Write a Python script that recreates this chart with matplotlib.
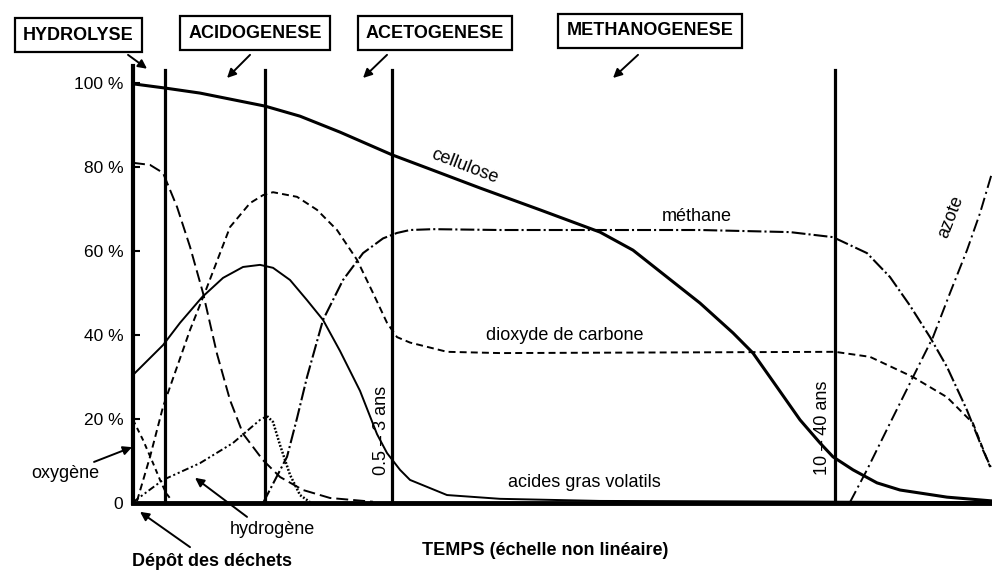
import matplotlib
matplotlib.use("Agg")
import matplotlib.pyplot as plt

plt.rcParams["font.family"] = ["Liberation Sans", "DejaVu Sans"]
plt.rcParams["lines.scale_dashes"] = False

# time axis is non linear: arbitrary units, 0 = waste deposit
phase_bounds = [32, 132, 259, 702]
phase_names = ["HYDROLYSE", "ACIDOGENESE", "ACETOGENESE", "METHANOGENESE"]

cellulose_x = [0, 32, 67, 132, 167, 207, 259, 297, 347, 407, 467, 500, 534, 567, 600, 620, 644, 667, 687, 700, 720, 744, 767, 814, 859]
cellulose_y = [99.8, 98.8, 97.6, 94.5, 92.1, 88.3, 82.9, 79.5, 75.0, 69.8, 64.5, 60.2, 53.8, 47.6, 40.5, 35.7, 27.6, 19.8, 14.3, 11.0, 7.9, 4.8, 3.1, 1.4, 0.5]

azote_x = [0, 17, 30, 44, 57, 70, 84, 97, 110, 130, 147, 170, 197, 240]
azote_y = [81, 80.5, 78.6, 70.5, 61, 50, 35.5, 24.5, 16.5, 10.2, 6.2, 3.1, 1.2, 0.3]

azote2_x = [717, 734, 757, 780, 800, 817, 834, 847, 859]
azote2_y = [0.2, 7.9, 19, 30, 39.5, 50, 60.2, 69, 78.6]

oxygene_x = [0, 10, 20, 27, 33, 39]
oxygene_y = [19.8, 15, 9.5, 5.5, 2.4, 0.5]

co2_x = [4, 17, 30, 44, 57, 74, 97, 117, 130, 140, 164, 184, 204, 224, 240, 254, 264, 277,
         314, 367, 702, 737, 780, 814, 840, 857]
co2_y = [0.5, 11, 22.9, 32.4, 41.2, 51.4, 65.7, 71.4, 73.3, 74, 72.9, 69.8, 65, 57.9, 50, 42.9, 39.5, 38.2,
         36, 35.7, 36, 34.8, 30, 25.2, 19, 8.6]

agv_x = [0, 30, 47, 69, 90, 110, 127, 140, 157, 174, 190, 207, 227, 244, 254, 267, 277, 314, 367, 467, 859]
agv_y = [30.5, 37.6, 42.9, 49, 53.6, 56.2, 56.7, 56, 53.1, 48.3, 43.6, 36.2, 26.7, 16.4, 11.9, 7.9, 5.5, 1.9, 1, 0.5, 0.2]

methane_x = [130, 142, 154, 164, 174, 190, 210, 230, 250, 264, 277, 300, 367, 567, 657, 700, 734, 757, 777, 797, 814, 834, 850, 859]
methane_y = [0, 5.5, 11, 20.2, 30, 43.6, 53.1, 59.5, 63, 64.3, 65, 65.2, 65, 65, 64.5, 63.3, 59.5, 53.8, 47, 39.5, 32.4, 22.1, 12.6, 7.9]

h2_rise_x = [0, 30, 67, 100, 127, 134]
h2_rise_y = [0.2, 5.5, 9.5, 14.3, 19.8, 20.7]
h2_fall_x = [134, 140, 147, 157, 167, 177]
h2_fall_y = [20.7, 19.3, 13.8, 6.7, 1.9, 0.2]

yticks = [0, 20, 40, 60, 80, 100]
ytick_labels = ["0", "20 %", "40 %", "60 %", "80 %", "100 %"]

fig = plt.figure(figsize=(9.92, 5.70), dpi=100)
ax = fig.add_axes([0.1341, 0.1175, 0.8659, 0.7811])
ax.set_xlim(0, 859)
ax.set_ylim(0, 106)

k = "black"
ax.plot(cellulose_x, cellulose_y, color=k, lw=2.2, solid_joinstyle="round")
ax.plot(azote_x, azote_y, color=k, lw=1.4, dashes=(8.6, 3.6))
ax.plot(azote2_x, azote2_y, color=k, lw=1.4, dashes=(9, 3, 1.5, 3))
ax.plot(oxygene_x, oxygene_y, color=k, lw=1.4, dashes=(3.6, 2.9))
ax.plot(co2_x, co2_y, color=k, lw=1.4, dashes=(5, 3))
ax.plot(agv_x, agv_y, color=k, lw=1.4, solid_joinstyle="round")
ax.plot(methane_x, methane_y, color=k, lw=1.5, dashes=(10, 2.2, 1.5, 2.2))
ax.plot(h2_rise_x, h2_rise_y, color=k, lw=1.4, dashes=(5, 2, 1.5, 2, 1.5, 2))
ax.plot(h2_fall_x, h2_fall_y, color=k, lw=1.8, dashes=(1.3, 1.3))

for xb in phase_bounds:
    ax.plot([xb, xb], [0, 103], color=k, lw=2.3, clip_on=False)

for s in ["top", "right"]:
    ax.spines[s].set_visible(False)
ax.spines["left"].set_linewidth(3)
ax.spines["left"].set_bounds(0, 104)
ax.spines["bottom"].set_linewidth(3.5)
ax.set_xticks([])
ax.set_yticks(yticks)
ax.set_yticklabels(ytick_labels)
ax.tick_params(axis="y", direction="in", length=5, width=1.5, pad=7, labelsize=12.5)

# phase boxes with arrows
fs = 13
box = dict(boxstyle="square,pad=0.45", fc="white", ec=k, lw=1.6)
box_pos = [(-55, 111.4), (122, 111.9), (302, 111.9), (517, 112.4)]
arrows = [((-5, 106.7), (14, 103.4)), ((117, 106.7), (94, 101.2)),
          ((254, 106.7), (230, 101.2)), ((505, 106.7), (480, 101.2))]
arrow_kw = dict(arrowstyle="-|>", color=k, lw=1.4, mutation_scale=13, shrinkA=0, shrinkB=0)
for name, (bx, by), (a0, a1) in zip(phase_names, box_pos, arrows):
    ax.text(bx, by, name, ha="center", va="center", fontsize=fs, fontweight="bold", bbox=box, clip_on=False)
    ax.annotate("", xy=a1, xytext=a0, arrowprops=arrow_kw, annotation_clip=False)

# curve labels
ax.text(332, 80.2, "cellulose", fontsize=fs, rotation=-21, ha="center", va="center", rotation_mode="anchor")
ax.text(564, 68.3, "méthane", fontsize=fs, ha="center", va="center")
ax.text(432, 40, "dioxyde de carbone", fontsize=fs, ha="center", va="center")
ax.text(451, 5, "acides gras volatils", fontsize=fs, ha="center", va="center")
ax.text(818, 68.1, "azote", fontsize=fs, rotation=69, ha="center", va="center", rotation_mode="anchor")
ax.text(248, 17.4, "0.5 – 3 ans", fontsize=fs, rotation=90, ha="center", va="center")
ax.text(689, 17.9, "10 – 40 ans", fontsize=fs, rotation=90, ha="center", va="center")

ax.annotate("oxygène", xy=(-1, 13.3), xytext=(-68, 7.1), fontsize=fs, ha="center", va="center",
            arrowprops=dict(arrow_kw), annotation_clip=False)
ax.annotate("", xy=(62, 6), xytext=(114, -3.3), arrowprops=arrow_kw, annotation_clip=False)
ax.text(139, -6.4, "hydrogène", fontsize=fs, ha="center", va="center")
ax.annotate("", xy=(7, -2.1), xytext=(57, -10.5), arrowprops=arrow_kw, annotation_clip=False)
ax.text(79, -14, "Dépôt des déchets", fontsize=fs, fontweight="bold", ha="center", va="center")
ax.text(412, -11.2, "TEMPS (échelle non linéaire)", fontsize=fs, fontweight="bold", ha="center", va="center")

fig.savefig("out.png", dpi=100, facecolor="white")
